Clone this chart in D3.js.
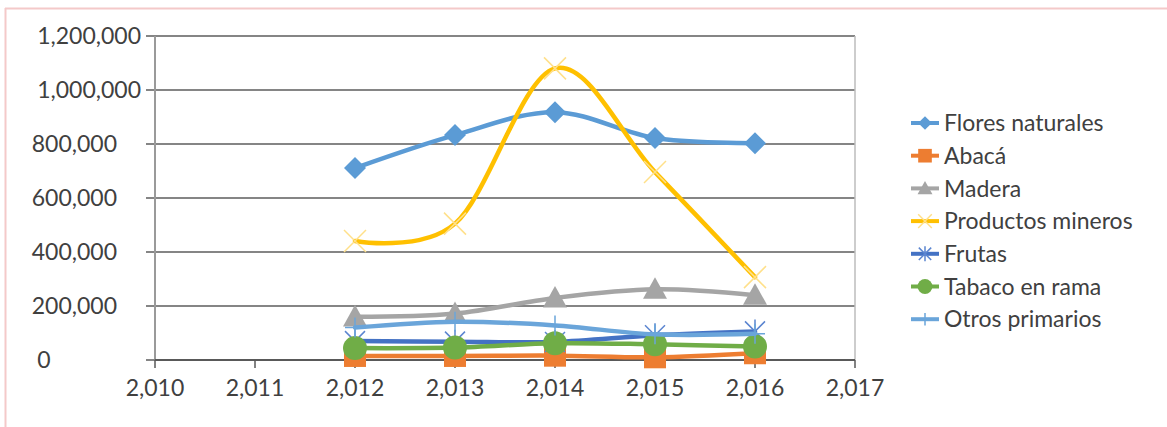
<!DOCTYPE html>
<html><head><meta charset="utf-8">
<script src="https://cdn.jsdelivr.net/npm/d3@7"></script>
<style>
html,body{margin:0;padding:0;background:#fff;}
svg text{font-family:Lato,"Open Sans",sans-serif;fill:#404040;}
</style></head>
<body><svg id="c" width="1167" height="427"></svg>
<script>
const years = [2012, 2013, 2014, 2015, 2016];
const xTicks = [2010, 2011, 2012, 2013, 2014, 2015, 2016, 2017];
const yTicks = [0, 200000, 400000, 600000, 800000, 1000000, 1200000];
const seriesNames = ["Flores naturales","Abacá","Madera","Productos mineros","Frutas","Tabaco en rama","Otros primarios"];
const flores = [711000, 833000, 918000, 822000, 803000];
const abaca = [15000, 15000, 16000, 10000, 25000];
const madera = [160000, 172000, 230000, 262000, 240000];
const mineros = [441000, 505000, 1080000, 696000, 307000];
const frutas = [70000, 68000, 67000, 92000, 106000];
const tabaco = [44000, 46000, 62000, 58000, 50000];
const otros = [120000, 142000, 128000, 95000, 97000];

const colors = ["#5B9BD5","#ED7D31","#A5A5A5","#FFC000","#4472C4","#70AD47","#6AA5DA"];
const markerColors = ["#5B9BD5","#ED7D31","#A5A5A5","#FFE08A","#5B85D0","#70AD47","#6AA5DA"];
const shapes = ["diamond","square","triangle","x","star","circle","plus"];
const data = [flores, abaca, madera, mineros, frutas, tabaco, otros];

const svg = d3.select("#c");
// pink frame
svg.append("line").attr("x1",5).attr("x2",1167).attr("y1",8.5).attr("y2",8.5).attr("stroke","#F4C9C9").attr("stroke-width",2);
svg.append("line").attr("x1",5.5).attr("x2",5.5).attr("y1",8).attr("y2",427).attr("stroke","#F4C9C9").attr("stroke-width",2);

const x = d3.scaleLinear().domain([2010, 2017]).range([155, 855]);
const y = d3.scaleLinear().domain([0, 1200000]).range([360, 36]);

// gridlines
svg.append("g").selectAll("line").data(yTicks.filter(d=>d>0)).join("line")
  .attr("x1",146).attr("x2",855).attr("y1",d=>y(d)).attr("y2",d=>y(d))
  .attr("stroke","#858585").attr("stroke-width",2);
// left axis & right line
svg.append("line").attr("x1",155).attr("x2",155).attr("y1",36).attr("y2",360).attr("stroke","#9a9a9a").attr("stroke-width",2);
svg.append("line").attr("x1",855).attr("x2",855).attr("y1",36).attr("y2",360).attr("stroke","#bdbdbd").attr("stroke-width",1.5);
svg.append("line").attr("x1",146).attr("x2",155).attr("y1",y(0)).attr("y2",y(0)).attr("stroke","#858585").attr("stroke-width",2);

// y labels
const fmt = d3.format(",");
svg.append("g").selectAll("text").data(yTicks).join("text")
  .attr("x",d=> d===0 ? 44 : (d>=1000000?141:117)).attr("y",d=>y(d)).attr("dy","0.36em")
  .attr("text-anchor",d=> d===0 ? "middle":"end").attr("font-size",23).text(d=>fmt(d));

// x axis
svg.append("line").attr("x1",155).attr("x2",855).attr("y1",360).attr("y2",360).attr("stroke","#595959").attr("stroke-width",2);
svg.append("g").selectAll("line").data(xTicks).join("line")
  .attr("x1",d=>x(d)).attr("x2",d=>x(d)).attr("y1",360).attr("y2",368)
  .attr("stroke","#595959").attr("stroke-width",1.5);
svg.append("g").selectAll("text").data(xTicks).join("text")
  .attr("x",d=>x(d)).attr("y",388).attr("dy","0.36em").attr("text-anchor","middle")
  .attr("font-size",23).text(d=>fmt(d));

function drawMarker(g, shape, cx, cy, col, s) {
  if (shape==="diamond") {
    g.append("path").attr("d",`M${cx},${cy-s}L${cx+s},${cy}L${cx},${cy+s}L${cx-s},${cy}Z`).attr("fill",col);
  } else if (shape==="square") {
    g.append("rect").attr("x",cx-s).attr("y",cy-s).attr("width",2*s).attr("height",2*s).attr("fill",col);
  } else if (shape==="triangle") {
    g.append("path").attr("d",`M${cx},${cy-s}L${cx+s},${cy+s*0.8}L${cx-s},${cy+s*0.8}Z`).attr("fill",col);
  } else if (shape==="circle") {
    g.append("circle").attr("cx",cx).attr("cy",cy).attr("r",s).attr("fill",col);
  } else if (shape==="x") {
    g.append("path").attr("d",`M${cx-s},${cy-s}L${cx+s},${cy+s}M${cx-s},${cy+s}L${cx+s},${cy-s}`).attr("stroke",col).attr("stroke-width",1.5);
  } else if (shape==="star") {
    g.append("path").attr("d",`M${cx-s},${cy-s}L${cx+s},${cy+s}M${cx-s},${cy+s}L${cx+s},${cy-s}M${cx},${cy-s*1.2}L${cx},${cy+s*1.2}`).attr("stroke",col).attr("stroke-width",1.5);
  } else if (shape==="plus") {
    g.append("path").attr("d",`M${cx-s},${cy}L${cx+s},${cy}M${cx},${cy-s}L${cx},${cy+s}`).attr("stroke",col).attr("stroke-width",1.5);
  }
}
const msize = {diamond:11, square:11, triangle:12, x:11, star:10, circle:12, plus:10};

const line = d3.line().x((d,i)=>x(years[i])).y(d=>y(d)).curve(d3.curveCatmullRom.alpha(0));
data.forEach((vals, k) => {
  const g = svg.append("g");
  g.append("path").attr("d", line(vals)).attr("fill","none").attr("stroke",colors[k]).attr("stroke-width",4.5).attr("stroke-linecap","round");
  vals.forEach((v,i)=> drawMarker(g, shapes[k], x(years[i]), y(v), markerColors[k], msize[shapes[k]]));
});

// legend
const lg = svg.append("g");
const ly0 = 123, ldy = 32.7;
seriesNames.forEach((nm, k) => {
  const cy = ly0 + k*ldy;
  lg.append("line").attr("x1",911).attr("x2",939).attr("y1",cy).attr("y2",cy).attr("stroke",colors[k]).attr("stroke-width",4);
  drawMarker(lg, shapes[k], 925, cy, markerColors[k], msize[shapes[k]]*0.62);
  lg.append("text").attr("x",944).attr("y",cy).attr("dy","0.36em").attr("font-size",23).text(nm);
});
</script></body></html>
